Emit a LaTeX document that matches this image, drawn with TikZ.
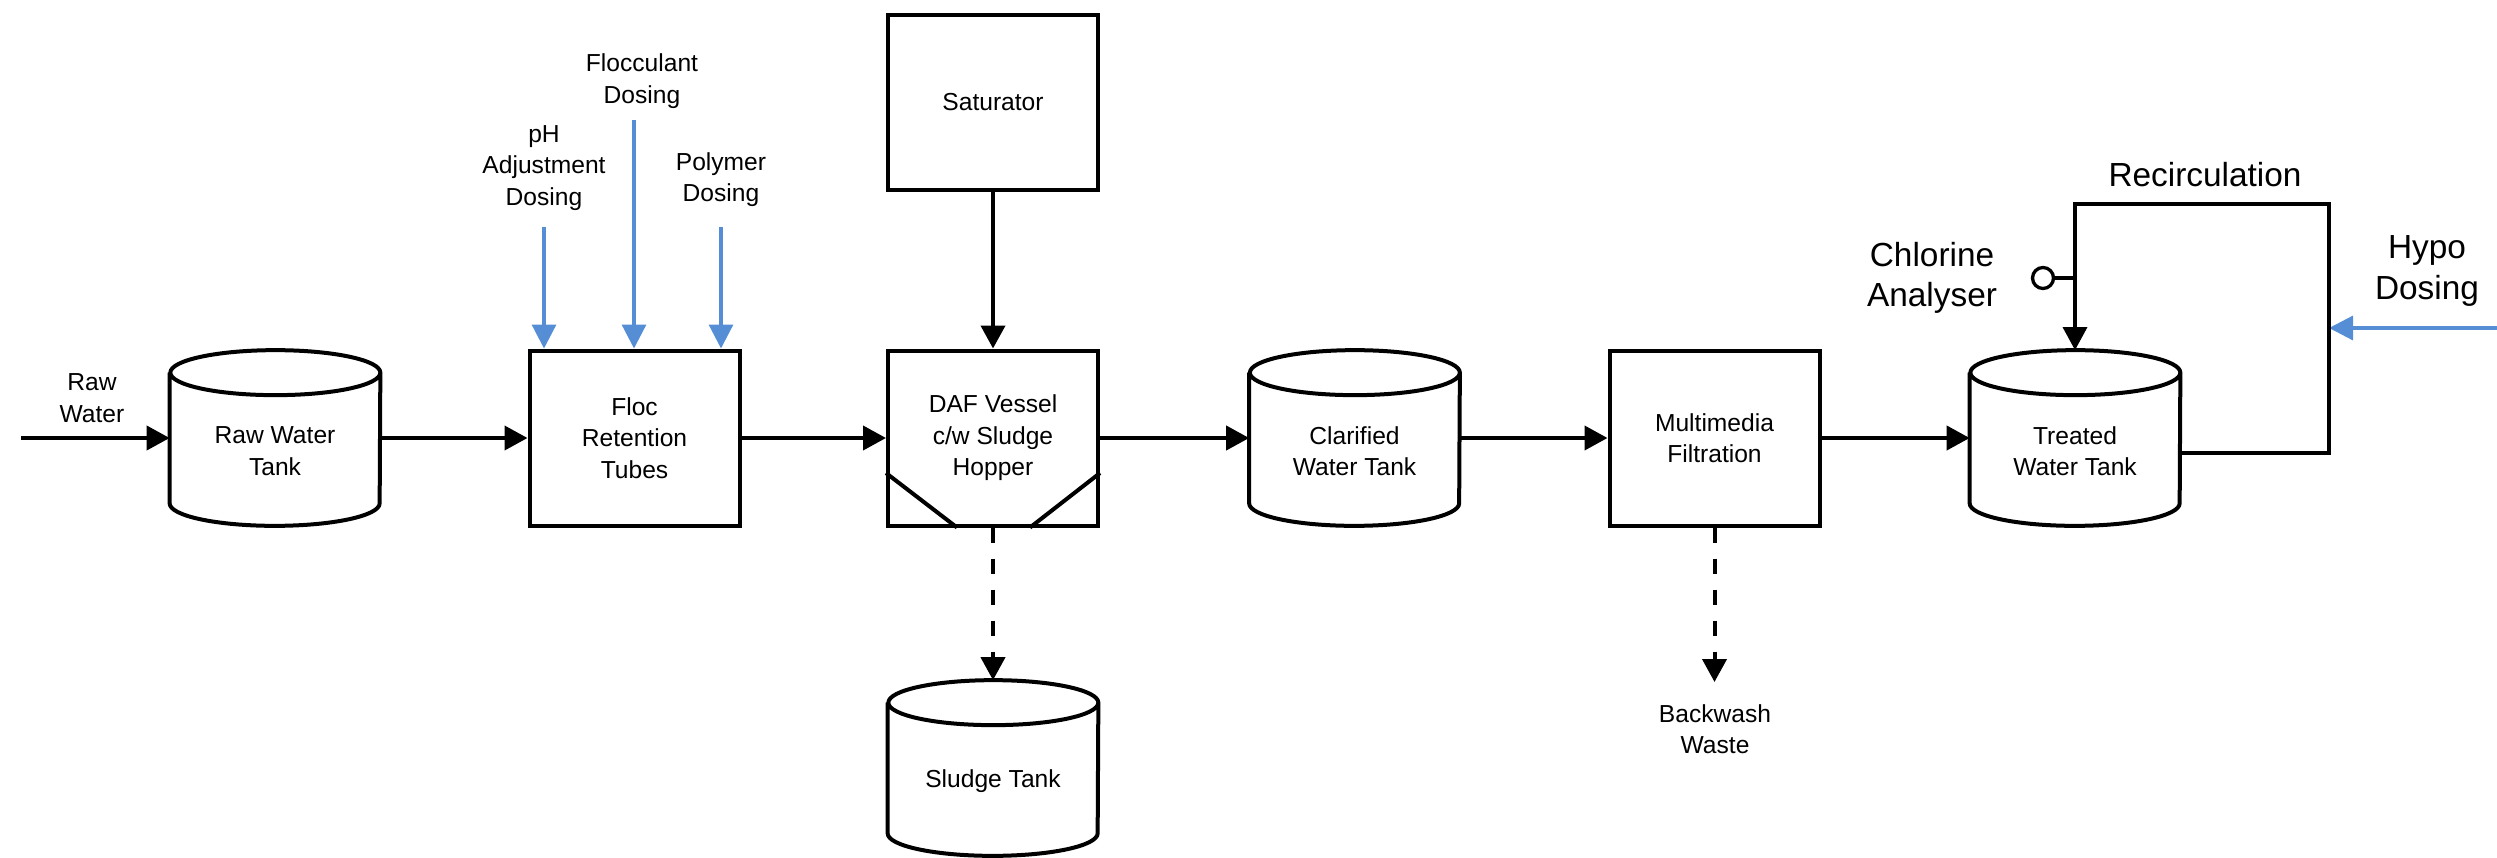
\documentclass[tikz,border=0pt]{standalone}
\usepackage{fontspec}
\setmainfont{Liberation Sans}
\usepackage{tikz}
\usetikzlibrary{arrows.meta}

\definecolor{dosingblue}{RGB}{85,142,213}

% tank drawn round an empty node
\newcommand{\tankoutline}[1]{%
  \draw[tankline] ([yshift=-0.45cm]#1.north west) -- ([yshift=0.45cm]#1.south west)
    arc[start angle=180, end angle=360, x radius=2.1cm, y radius=0.45cm]
    -- ([yshift=-0.45cm]#1.north east)
    arc[start angle=0, end angle=180, x radius=2.1cm, y radius=0.45cm]
    arc[start angle=180, end angle=360, x radius=2.1cm, y radius=0.45cm];}

\begin{document}
\begin{tikzpicture}
          \useasboundingbox (0,8.76) rectangle (49.94,-8.38);
          \tikzset{
            process/.style = {draw, line width=0.08cm, minimum width=4.2cm, minimum height=3.5cm,
                              align=center, font=\fontsize{14}{17.9}\selectfont},
            tank/.style = {inner sep=0pt, minimum width=4.2cm, minimum height=3.5cm},
            tankline/.style = {line width=0.08cm, line join=round},
            tanktext/.style = {align=center, yshift=-0.26cm, font=\fontsize{14}{17.9}\selectfont},
            flowlabel/.style = {align=center, font=\fontsize{14}{17.9}\selectfont},
            biglabel/.style = {align=center, font=\fontsize{19}{23}\selectfont},
            flow/.style = {line width=0.08cm, -{Triangle[length=0.46cm,width=0.48cm]}},
            drain/.style = {flow, dash pattern=on 0.3cm off 0.32cm},
            dosing/.style = {dosingblue, line width=0.066cm, -{Triangle[length=0.48cm,width=0.48cm]}},
            recircline/.style = {line width=0.066cm},
            analyser/.style = {draw, circle, line width=0.066cm, minimum size=0.42cm, inner sep=0pt}
          }

          % units
          \node[tank, label={[tanktext]center:{Raw Water\\Tank}}] (rawtank) at (5.5,0) {};
          \node[process] (floc) at (12.69,0) {Floc\\Retention\\Tubes};
          \node[process] (daf) at (19.86,0) {DAF Vessel\\c/w Sludge\\Hopper};
          \node[process] (sat) at (19.86,6.71) {Saturator};
          \node[tank, label={[tanktext]center:Sludge Tank}] (sludge) at (19.86,-6.6) {};
          \node[tank, label={[tanktext]center:{Clarified\\Water Tank}}] (clartank) at (27.09,0) {};
          \node[process] (mmf) at (34.29,0) {Multimedia\\Filtration};
          \node[tank, label={[tanktext]center:{Treated\\Water Tank}}] (treattank) at (41.5,0) {};
          \node[analyser] (cl2) at (40.86,3.2) {};

          \tankoutline{rawtank}
          \tankoutline{sludge}
          \tankoutline{clartank}
          \tankoutline{treattank}

          % hopper
          \draw[line width=0.08cm] ([yshift=-0.7cm]daf.west) -- ([xshift=-0.72cm]daf.south);
          \draw[line width=0.08cm] ([yshift=-0.7cm]daf.east) -- ([xshift=0.74cm]daf.south);

          % labels
          \node[flowlabel] (rawlbl) at (1.84,0.8) {Raw\\Water};
          \node[flowlabel] (phlbl) at (10.88,5.4) {pH\\Adjustment\\Dosing};
          \node[flowlabel] (floclbl) at (12.84,7.14) {Flocculant\\Dosing};
          \node[flowlabel] (polylbl) at (14.42,5.17) {Polymer\\Dosing};
          \node[flowlabel] (bwlbl) at (34.3,-5.82) {Backwash\\Waste};
          \node[biglabel] (recirclbl) at (44.1,5.26) {Recirculation};
          \node[biglabel] (cl2lbl) at (38.64,3.2) {Chlorine\\Analyser};
          \node[biglabel] (hypolbl) at (48.54,3.34) {Hypo\\Dosing};

          \coordinate (rawin) at (0.42,0);
          \coordinate (phin) at (10.88,4.22);
          \coordinate (flocin) at (12.68,6.36);
          \coordinate (polyin) at (14.42,4.22);
          \coordinate (bwout) at (34.29,-4.88);
          \coordinate (recirc) at (46.58,4.68);
          \coordinate (hypoin) at (49.94,2.2);

          % main flow
          \draw[flow] (rawin) -- (rawtank.west);
          \draw[flow] (rawtank.east) -- (floc.west);
          \draw[flow] (floc.east) -- (daf.west);
          \draw[flow] (daf.east) -- (clartank.west);
          \draw[flow] (clartank.east) -- (mmf.west);
          \draw[flow] (mmf.east) -- (treattank.west);
          \draw[flow] (sat.south) -- (daf.north);

          % waste lines
          \draw[drain] (daf.south) -- (sludge.north);
          \draw[drain] (mmf.south) -- (bwout);

          % dosing lines
          \draw[dosing] (phin) -- (phin |- floc.north);
          \draw[dosing] (flocin) -- (flocin |- floc.north);
          \draw[dosing] (polyin) -- (polyin |- floc.north);
          \draw[dosing] (hypoin) -- (hypoin -| recirc);

          % recirculation
          \draw[flow, recircline] ([yshift=-0.3cm]treattank.east) -| (recirc) -| (treattank.north);
          \draw[recircline] (cl2) -- (cl2 -| treattank.north);
\end{tikzpicture}
\end{document}
